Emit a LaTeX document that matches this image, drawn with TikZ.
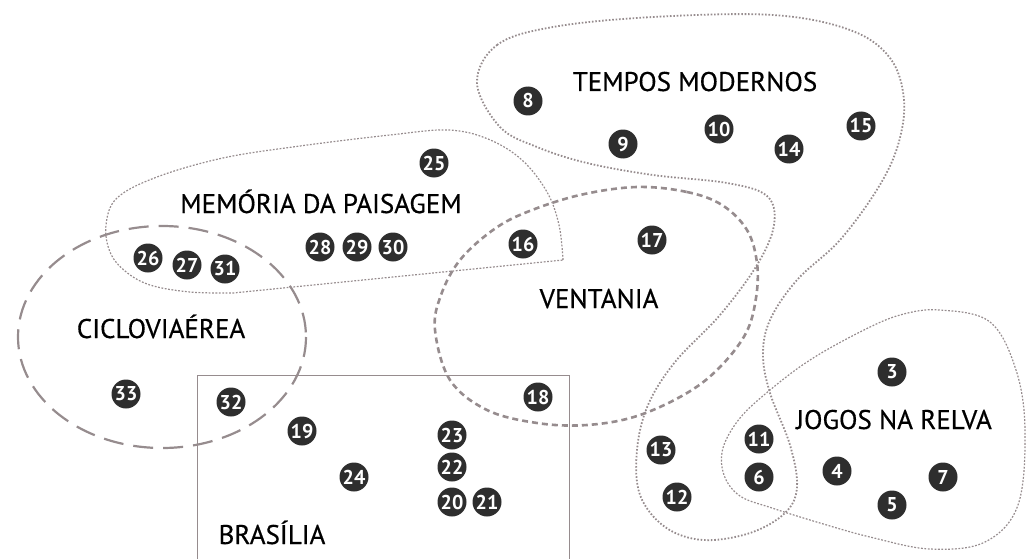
\documentclass[tikz,border=0pt]{standalone}
\usepackage{fontspec}
\setmainfont{PT Sans}
\newfontfamily\zonefont{PT Sans}[FakeBold=0.5]
\usepackage{xcolor}
\usepackage{tikz}

\definecolor{zonegray}{RGB}{150,140,142}
\definecolor{markgray}{RGB}{46,46,46}

\tikzset{
    marker/.style = {circle, fill = markgray, text = white, inner sep = 0pt,
        minimum size = 29pt, font = \fontsize{20}{20}\selectfont\bfseries},
    zonelabel/.style = {anchor = base, inner sep = 0pt,
        font = \zonefont\fontsize{27}{27}\selectfont},
    bigdots/.style = {color = zonegray, line width = 1.8pt, dash pattern = on 1.6pt off 1.8pt},
    finedots/.style = {color = zonegray, line width = 1.2pt, dash pattern = on 1.8pt off 1.6pt},
    shortdash/.style = {color = zonegray, line width = 2.6pt, dash pattern = on 6pt off 4pt},
    longdash/.style = {color = zonegray, line width = 2.2pt, dash pattern = on 20pt off 10pt}
}

\begin{document}
\begin{tikzpicture}[x = 1pt, y = -1pt]
                    \useasboundingbox (0, 0) rectangle (1027, 559);

                    \draw[bigdots] plot[smooth cycle, tension = 0.6] coordinates {
                        (477, 83) (497, 45) (553, 27) (653, 17) (773, 15) (850, 30)
                        (890, 58) (904, 100) (898, 145) (878, 188) (840, 240) (797, 280)
                        (770, 320) (763, 355) (770, 393) (790, 445) (797, 487) (785, 513)
                        (750, 533) (703, 540) (665, 527) (640, 495) (637, 450) (648, 405)
                        (675, 362) (720, 315) (757, 265) (774, 225) (767, 196) (727, 183)
                        (653, 175) (587, 163) (537, 147) (500, 127)};

                    \draw[finedots] plot[smooth cycle, tension = 0.6] coordinates {
                        (940, 310) (990, 322) (1016, 370) (1025, 430) (1018, 505)
                        (985, 542) (930, 549) (870, 537) (820, 523) (772, 508)
                        (740, 496) (724, 475) (723, 448) (740, 418) (770, 390)
                        (810, 360) (860, 332) (900, 315)};

                    \draw[finedots] plot[smooth, tension = 0.6] coordinates {
                        (563, 260) (559, 225) (547, 192) (522, 160) (488, 139) (448, 130)
                        (390, 135) (300, 146) (223, 158) (157, 177) (117, 198) (106, 225)
                        (110, 252) (125, 271) (150, 285) (190, 292) (233, 293)} -- cycle;

                    \draw[shortdash] plot[smooth cycle, tension = 0.6] coordinates {
                        (637, 187) (687, 192) (722, 205) (747, 230) (757, 263) (756, 298)
                        (746, 333) (720, 367) (687, 393) (637, 416) (587, 425) (537, 423)
                        (487, 410) (450, 380) (435, 330) (441, 295) (460, 260) (493, 230)
                        (527, 212) (580, 195)};

                    \draw[longdash] (162, 337) ellipse (144 and 111);

                    \draw[color = zonegray, line width = 1pt]
                        (197, 559) -- (197, 375) -- (569, 375) -- (569, 559);

                    \node[zonelabel] (tempos) at (695, 91) {TEMPOS MODERNOS};
                    \node[zonelabel] (memoria) at (321, 213) {MEMÓRIA DA PAISAGEM};
                    \node[zonelabel] (ventania) at (599, 308) {VENTANIA};
                    \node[zonelabel] (ciclovia) at (161, 338) {CICLOVIAÉREA};
                    \node[zonelabel] (jogos) at (894, 429) {JOGOS NA RELVA};
                    \node[zonelabel] (brasilia) at (272, 544) {BRASÍLIA};

                    \foreach \n/\x/\y in {3/892/372, 4/837/471, 5/892/505, 6/759/477,
                        7/943/477, 8/528/101, 9/623/144, 10/719/129, 11/759/439,
                        12/677/497, 13/661/450, 14/789/149, 15/861/126, 16/523/244,
                        17/652/240, 18/538/397, 19/302/431, 20/452/502, 21/487/502,
                        22/452/467, 23/452/435, 24/354/477, 25/434/163, 26/148/258,
                        27/187/265, 28/320/247, 29/357/247, 30/393/247, 31/225/269,
                        32/231/402, 33/126/394}
                        \node[marker] (m\n) at (\x, \y) {\n};
                \end{tikzpicture}
\end{document}
